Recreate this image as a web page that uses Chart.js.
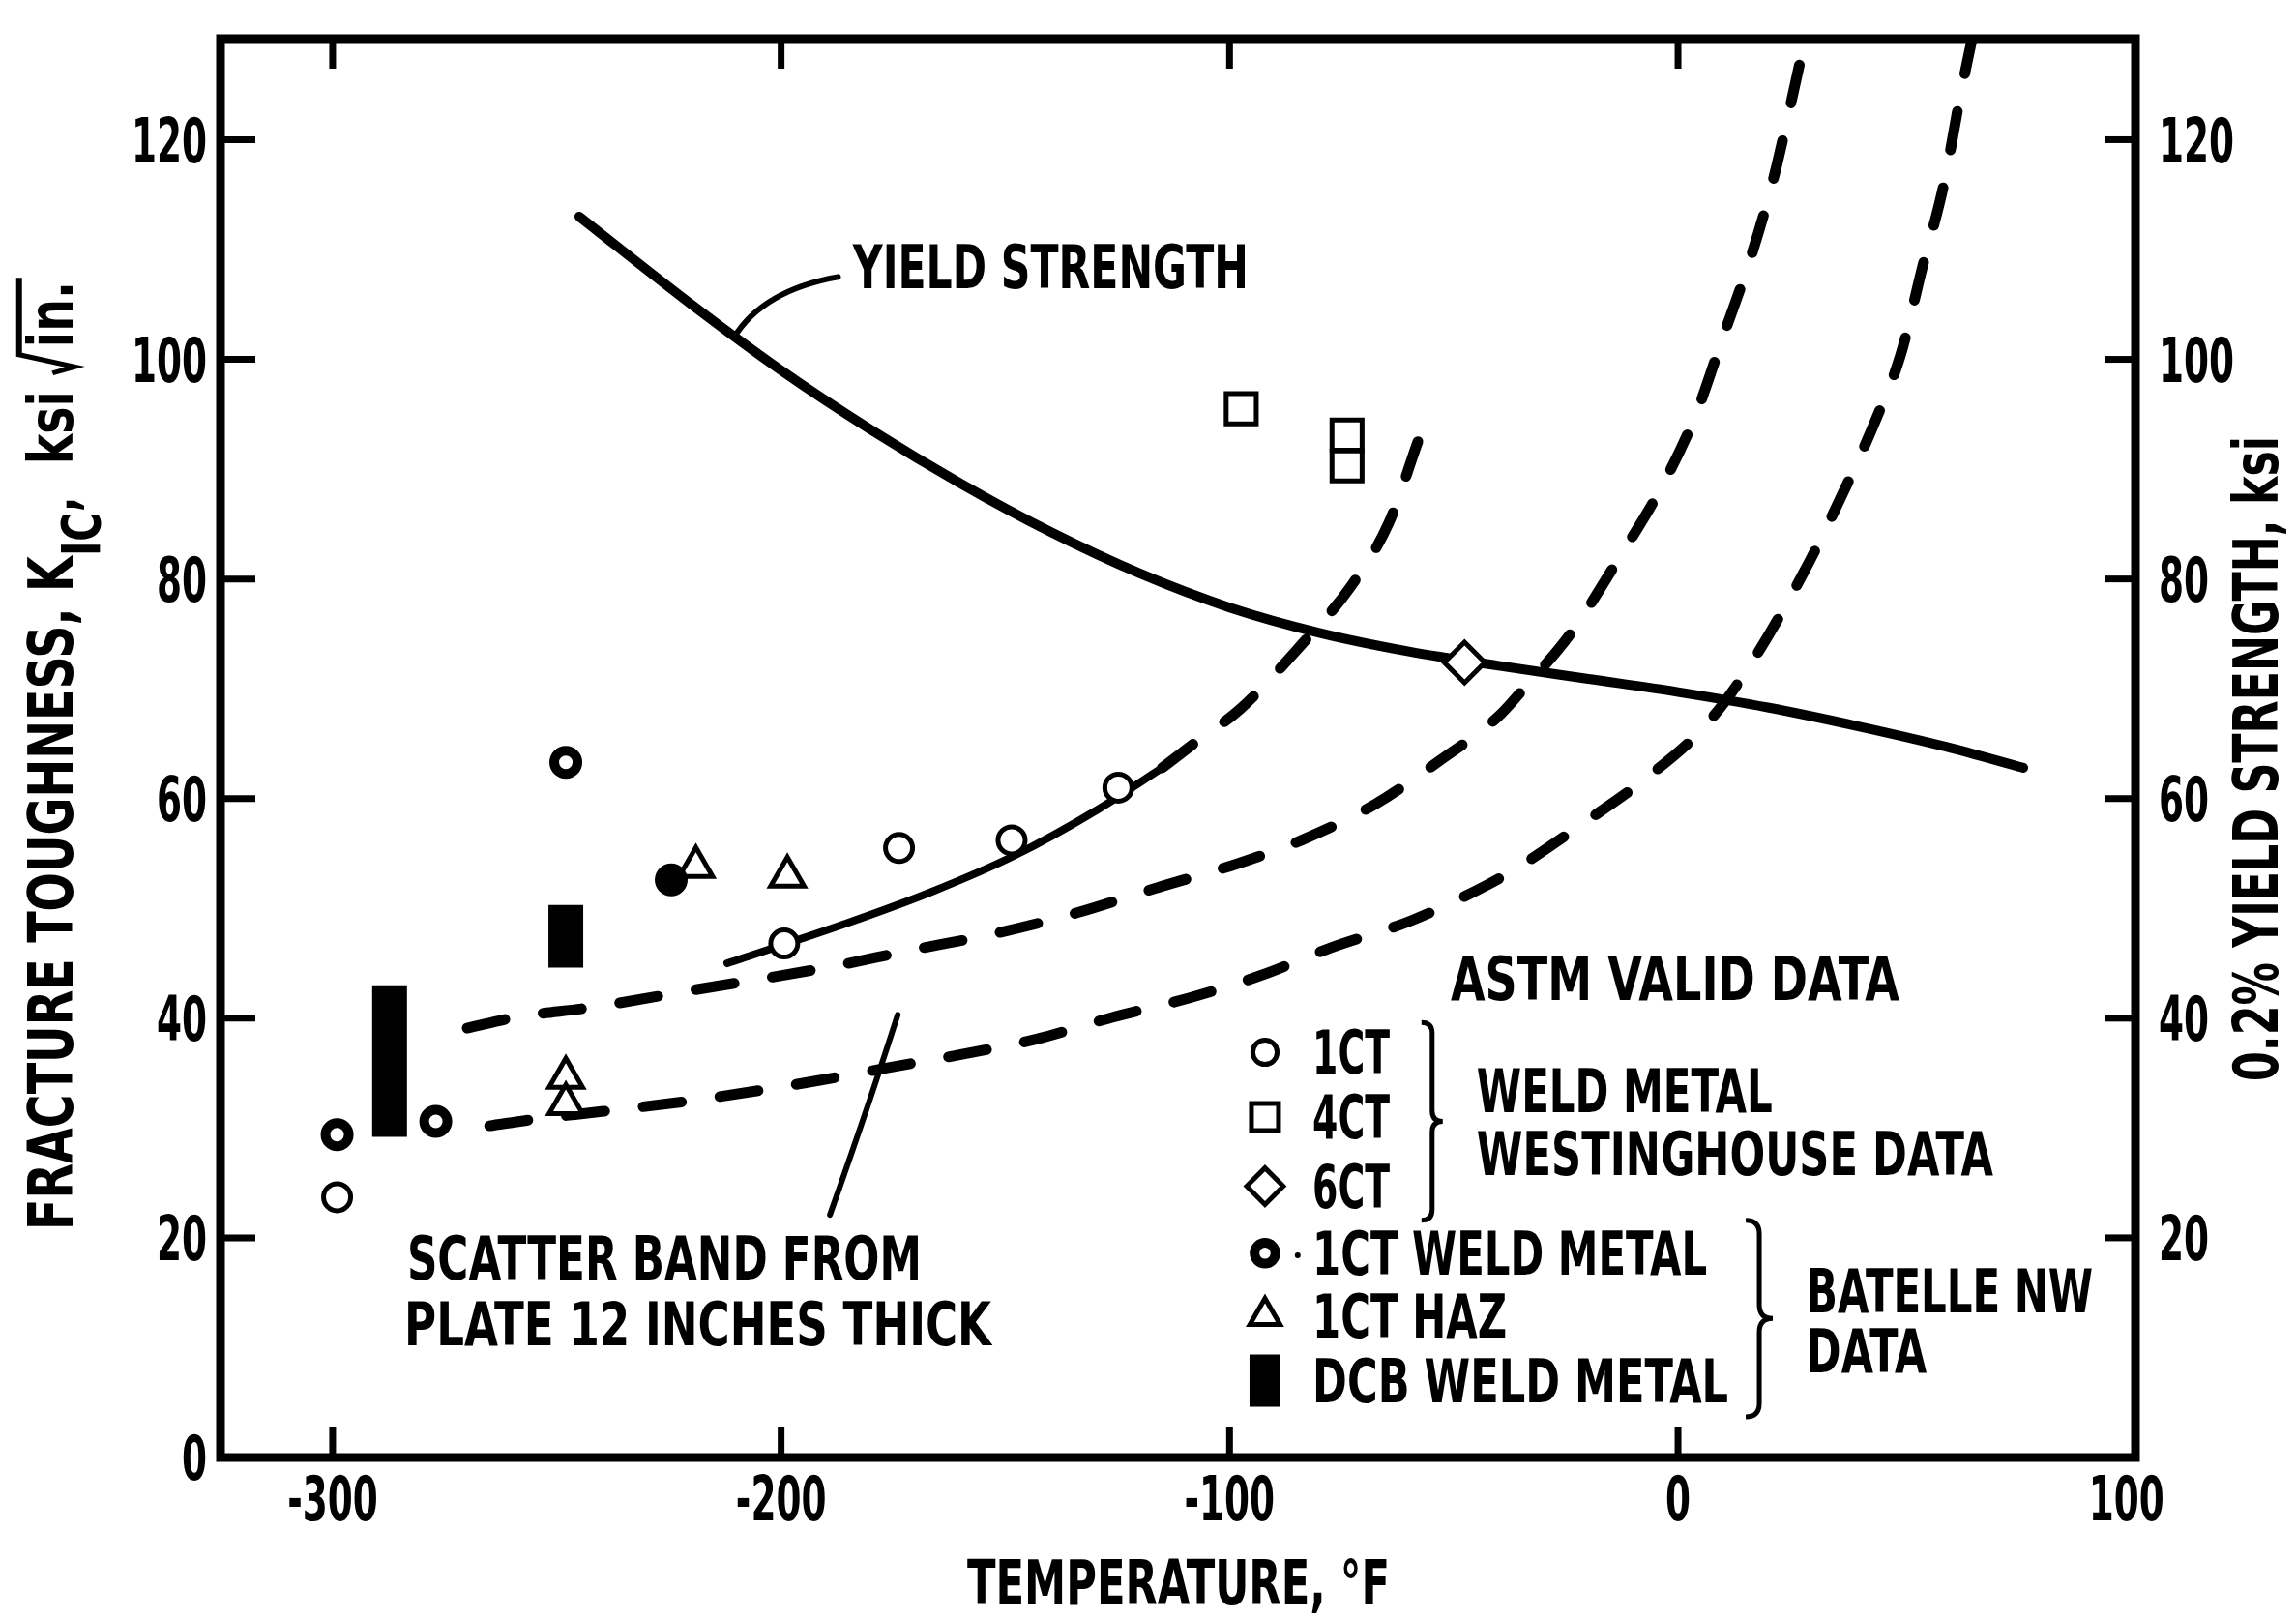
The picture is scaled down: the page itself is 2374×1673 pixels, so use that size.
<!DOCTYPE html>
<html>
<head>
    <title>Fracture Toughness vs Temperature</title>
    <style>
        body { margin: 0; background: #fff; }
        #wrap { width: 2374px; height: 1673px; }
    </style>
    <script src="https://cdn.jsdelivr.net/npm/chart.js"></script>
</head>
<body>
    <div id="wrap"><canvas id="kicChart" width="2374" height="1673"></canvas></div>

    <script>
        const FONT = "'Liberation Sans Narrow', 'DejaVu Sans Condensed', 'Liberation Sans', sans-serif";

        // axis ticks
        const xTicks = [-300, -200, -100, 0, 100];
        const yTicks = [0, 20, 40, 60, 80, 100, 120];
        const yieldTicks = [20, 40, 60, 80, 100, 120];

        // 0.2% yield strength curve (ksi, right axis)
        const yieldT = [-245, -220, -200, -180, -160, -140, -120, -100, -80, -60, -40, -20, 0, 20, 40, 60, 77];
        const yieldKsi = [113, 105, 99, 93.6, 88.7, 84.3, 80.5, 77.4, 75.1, 73.4, 72.1, 70.9, 69.7, 68.3, 66.6, 64.7, 62.8];

        // solid fit through 1CT weld metal points, then dashed continuation
        const fitT = [-212, -185, -166.5, -148, -129, -115];
        const fitK = [45, 48.7, 51.5, 54.8, 59.1, 62.8];
        const fitDashT = [-115, -108, -97.5, -84, -73, -64.5, -58];
        const fitDashK = [62.8, 65, 68.2, 74, 79.3, 85.1, 92.5];

        // scatter band from 12 inch plate (upper and lower bounds)
        const bandHiT = [-270, -259, -242, -219, -190, -171, -153.5, -134, -116, -98, -84, -67.5, -53, -40, -34, -24, -13, -3.5, 4, 10, 16, 21, 25, 29.3];
        const bandHiK = [39.1, 40.1, 41, 42.6, 44.6, 46.2, 47.6, 49.6, 51.9, 54.1, 56.2, 59.5, 63.5, 67.5, 70.2, 75, 82, 88.5, 95, 102, 109, 116, 123, 131];
        const bandLoT = [-265, -255, -240, -218, -192, -176, -158.5, -143, -126, -108.5, -93, -77.5, -59.4, -43.2, -35.8, -20.6, -7.3, 6, 15.5, 27.9, 36.4, 44, 49.7, 54.5, 59.2, 63, 66.5];
        const bandLoK = [30.2, 30.8, 31.5, 32.6, 34.3, 35.5, 36.8, 38.1, 40.1, 41.9, 43.9, 46.4, 48.9, 52, 53.7, 57.9, 61.8, 66.6, 71.8, 80.5, 87.5, 94.4, 100.5, 108.4, 115.8, 124.1, 131];

        // Westinghouse weld metal data
        const ct1T = [-299, -199.3, -173.7, -148.6, -124.8];
        const ct1K = [23.7, 46.8, 55.5, 56.2, 61];
        const ct4T = [-97.4, -73.8, -73.8];
        const ct4K = [95.5, 93.1, 90.3];
        const ct6T = [-47.6];
        const ct6K = [72.4];

        // Batelle NW data
        const weldT = [-299, -277, -248, -224.5];
        const weldK = [29.4, 30.6, 63.3, 52.6];
        const hazT = [-248, -248, -219, -198.6];
        const hazK = [34.6, 32.2, 53.8, 52.9];
        const dcbT = [-287.3, -248];
        const dcbLo = [29.2, 44.6];
        const dcbHi = [43, 50.3];

        const pts = (xs, ys) => xs.map((x, i) => ({ x: x, y: ys[i] }));

        const marks = {
            ct1: { pointStyle: 'circle', radius: 14, borderWidth: 5 },
            ct4: { pointStyle: 'rect', radius: 22, borderWidth: 5 },
            ct6: { pointStyle: 'rectRot', radius: 21, borderWidth: 5 },
            weld: { pointStyle: 'circle', radius: 12, borderWidth: 10 },
            haz: { pointStyle: 'triangle', radius: 20, borderWidth: 5 }
        };

        function markerSet(label, data, m, fill) {
            return {
                type: 'scatter', label: label, data: data,
                pointStyle: m.pointStyle, pointRadius: m.radius, pointBorderWidth: m.borderWidth,
                pointBorderColor: '#000', pointBackgroundColor: fill || '#fff', showLine: false
            };
        }

        function curve(label, data, width, dash, axis) {
            return {
                type: 'line', label: label, data: data, yAxisID: axis || 'y',
                borderColor: '#000', borderWidth: width, borderDash: dash || [],
                borderCapStyle: 'round', pointRadius: 0, cubicInterpolationMode: 'monotone',
                fill: false, clip: 0
            };
        }

        const datasets = [
            markerSet('1CT', pts(ct1T, ct1K), marks.ct1),
            markerSet('4CT', pts(ct4T, ct4K), marks.ct4),
            markerSet('6CT', pts(ct6T, ct6K), marks.ct6),
            markerSet('1CT WELD METAL', pts(weldT, weldK), marks.weld, ['#fff', '#fff', '#fff', '#000']),
            markerSet('1CT HAZ', pts(hazT, hazK), marks.haz)
        ];
        dcbT.forEach((t, i) => {
            datasets.push({
                type: 'line', label: 'DCB WELD METAL',
                data: [{ x: t, y: dcbLo[i] }, { x: t, y: dcbHi[i] }],
                borderColor: '#000', borderWidth: 36, borderCapStyle: 'butt',
                pointRadius: 0, tension: 0, fill: false
            });
        });
        datasets.push(
            curve('Yield strength', pts(yieldT, yieldKsi), 10, null, 'y2'),
            curve('1CT fit', pts(fitT, fitK), 8),
            curve('1CT fit (extrapolated)', pts(fitDashT, fitDashK), 11, [40, 40]),
            curve('Scatter band upper', pts(bandHiT, bandHiK), 11, [40, 40]),
            curve('Scatter band lower', pts(bandLoT, bandLoK), 11, [40, 40])
        );

        function seg(c, x0, y0, x1, y1) {
            c.beginPath(); c.moveTo(x0, y0); c.lineTo(x1, y1); c.stroke();
        }

        // condensed lettering: text squeezed to a given width
        function text(c, str, x, y, w, size) {
            c.save();
            c.font = 'bold ' + size + 'px ' + FONT;
            c.textAlign = 'left';
            c.textBaseline = 'alphabetic';
            const k = w / c.measureText(str).width;
            c.translate(x, y + size * 0.36);
            c.scale(k, 1);
            c.fillText(str, 0, 0);
            c.restore();
        }

        function tickText(c, str, x, y, align) {
            c.save();
            c.font = 'bold 64px ' + FONT;
            const k = 26 / c.measureText('0').width;
            const w = c.measureText(str).width * k;
            const x0 = align === 'right' ? x - w : (align === 'center' ? x - w / 2 : x);
            c.translate(x0, y + 64 * 0.36);
            c.scale(k, 1);
            c.textAlign = 'left';
            c.textBaseline = 'alphabetic';
            c.fillText(str, 0, 0);
            c.restore();
        }

        function brace(c, x, y0, y1, w) {
            const m = (y0 + y1) / 2;
            c.beginPath();
            c.moveTo(x, y0);
            c.quadraticCurveTo(x + w, y0, x + w, y0 + w);
            c.lineTo(x + w, m - w);
            c.quadraticCurveTo(x + w, m, x + 2 * w, m);
            c.quadraticCurveTo(x + w, m, x + w, m + w);
            c.lineTo(x + w, y1 - w);
            c.quadraticCurveTo(x + w, y1, x, y1);
            c.stroke();
        }

        function leftTitle(c, cx, cy, len) {
            const S = 64, cap = S * 0.72, base = cap / 2;
            const parts = [
                { t: 'FRACTURE TOUGHNESS, K', f: S, dy: 0 },
                { t: 'IC', f: 56, dy: 28 },
                { t: ',', f: 56, dy: 4 },
                { t: '  ksi ', f: S, dy: 0 }
            ];
            c.save();
            c.translate(cx, cy);
            c.rotate(-Math.PI / 2);
            const widths = parts.map(p => { c.font = 'bold ' + p.f + 'px ' + FONT; return c.measureText(p.t).width; });
            c.font = 'bold ' + S + 'px ' + FONT;
            const inW = c.measureText('in.').width;
            const radW = cap * 0.75;
            const total = widths.reduce((s, v) => s + v, 0) + radW + inW;
            c.scale(len / total, 1);
            c.textBaseline = 'alphabetic';
            let pos = -total / 2;
            parts.forEach((p, i) => {
                c.font = 'bold ' + p.f + 'px ' + FONT;
                c.fillText(p.t, pos, base + p.dy);
                pos += widths[i];
            });
            c.lineWidth = 6;
            c.beginPath();
            c.moveTo(pos + 0.05 * cap, base - 0.45 * cap);
            c.lineTo(pos + 0.22 * cap, base + 0.05 * cap);
            c.lineTo(pos + 0.55 * cap, base - 1.2 * cap);
            c.lineTo(pos + radW + inW + 0.1 * cap, base - 1.2 * cap);
            c.stroke();
            c.font = 'bold ' + S + 'px ' + FONT;
            c.fillText('in.', pos + radW, base);
            c.restore();
        }

        function vText(c, str, cx, cy, len, size) {
            c.save();
            c.translate(cx, cy);
            c.rotate(-Math.PI / 2);
            c.font = 'bold ' + size + 'px ' + FONT;
            c.scale(len / c.measureText(str).width, 1);
            c.textAlign = 'center';
            c.textBaseline = 'alphabetic';
            c.fillText(str, 0, size * 0.36);
            c.restore();
        }

        const tickName = t => (t.label !== undefined && t.label !== '' ? String(t.label) : String(t.value));

        const annotate = {
            id: 'annotate',
            afterDatasetsDraw(chart) {
                const c = chart.ctx, a = chart.chartArea;
                const xs = chart.scales.x, ys = chart.scales.y, y2 = chart.scales.y2;
                const X = v => xs.getPixelForValue(v), Y = v => ys.getPixelForValue(v);
                c.save();
                c.strokeStyle = '#000';
                c.fillStyle = '#000';

                // frame and inward tick marks
                c.lineWidth = 9;
                c.strokeRect(a.left, a.top, a.right - a.left, a.bottom - a.top);
                c.lineWidth = 7;
                xs.ticks.forEach(t => {
                    const p = X(t.value);
                    tickText(c, tickName(t), p, a.bottom + 42, 'center');
                    if (t.value <= xs.min || t.value >= xs.max - 5) return;
                    seg(c, p, a.bottom, p, a.bottom - 31);
                    seg(c, p, a.top, p, a.top + 31);
                });
                ys.ticks.forEach(t => {
                    const p = Y(t.value);
                    tickText(c, tickName(t), a.left - 14, p, 'right');
                    if (t.value <= 0) return;
                    seg(c, a.left, p, a.left + 36, p);
                });
                y2.ticks.forEach(t => {
                    const p = y2.getPixelForValue(t.value);
                    tickText(c, tickName(t), a.right + 24, p, 'left');
                    seg(c, a.right, p, a.right - 31, p);
                });

                // leader lines
                c.lineWidth = 6;
                c.lineCap = 'round';
                c.beginPath();
                c.moveTo(X(-210.5), Y(102));
                c.quadraticCurveTo(X(-204), Y(106.3), X(-187.3), Y(107.5));
                c.stroke();
                c.beginPath();
                c.moveTo(X(-189.1), Y(22.1));
                c.quadraticCurveTo(X(-180.5), Y(32), X(-174), Y(40.3));
                c.stroke();

                // notes
                const notes = [
                    ['YIELD STRENGTH', -184, 108.4, 409],
                    ['SCATTER BAND FROM', -283.4, 18.2, 532],
                    ['PLATE 12 INCHES THICK', -284, 12.2, 607],
                    ['ASTM VALID DATA', -50.7, 43.6, 464],
                    ['WELD METAL', -44.9, 33.4, 306],
                    ['WESTINGHOUSE DATA', -44.9, 27.7, 534],
                    ['BATELLE NW', 28.7, 15.2, 296],
                    ['DATA', 28.7, 9.7, 124]
                ];
                notes.forEach(n => text(c, n[0], X(n[1]), Y(n[2]), n[3], 62));

                // key
                const rows = [
                    ['1CT', marks.ct1, '#fff', 80, 36.9],
                    ['4CT', marks.ct4, '#fff', 80, 31.0],
                    ['6CT', marks.ct6, '#fff', 80, 24.7],
                    ['1CT WELD METAL', marks.weld, '#fff', 408, 18.6],
                    ['1CT HAZ', marks.haz, '#fff', 201, 12.9],
                    ['DCB WELD METAL', null, '#000', 430, 7.0]
                ];
                const mx = X(-92.1), tx = X(-81.5);
                rows.forEach(r => {
                    const py = Y(r[4]);
                    if (r[1]) {
                        c.fillStyle = r[2];
                        c.lineWidth = r[1].borderWidth;
                        Chart.helpers.drawPoint(c, { pointStyle: r[1].pointStyle, radius: r[1].radius * 0.9, borderWidth: r[1].borderWidth, rotation: 0 }, mx, py);
                    } else {
                        c.fillStyle = '#000';
                        c.fillRect(mx - 16, py - 27, 32, 54);
                    }
                    c.fillStyle = '#000';
                    text(c, r[0], tx, py, r[3], 62);
                });
                c.beginPath();
                c.arc(X(-84.8), Y(18.4), 3, 0, Math.PI * 2);
                c.fill();

                c.lineWidth = 5;
                c.lineCap = 'butt';
                brace(c, X(-57.2), Y(39.6), Y(21.6), 11);
                brace(c, X(15.1), Y(21.6), Y(3.7), 14);

                // axis titles
                leftTitle(c, a.left - 176, (a.top + a.bottom) / 2 + 8, 981);
                vText(c, '0.2% YIELD STRENGTH, ksi', a.right + 124, (a.top + a.bottom) / 2 + 11, 667, 64);
                text(c, 'TEMPERATURE, \u00B0F', (a.left + a.right) / 2 - 218, a.bottom + 129, 437, 64);

                c.restore();
            }
        };

        const hidden = { display: false };

        new Chart(document.getElementById('kicChart').getContext('2d'), {
            type: 'scatter',
            data: { datasets: datasets },
            options: {
                responsive: false,
                devicePixelRatio: 1,
                animation: false,
                events: [],
                layout: { padding: { top: 40, left: 0, right: 0, bottom: 0 } },
                plugins: { legend: { display: false }, tooltip: { enabled: false } },
                scales: {
                    x: {
                        type: 'linear', position: 'bottom', min: -325, max: 102,
                        afterBuildTicks: s => { s.ticks = xTicks.map(v => ({ value: v })); },
                        afterFit: s => { s.height = 166; },
                        grid: hidden, border: hidden, ticks: { display: false }
                    },
                    y: {
                        type: 'linear', position: 'left', min: 0, max: 129.2,
                        afterBuildTicks: s => { s.ticks = yTicks.map(v => ({ value: v })); },
                        afterFit: s => { s.width = 228; },
                        grid: hidden, border: hidden, ticks: { display: false }
                    },
                    y2: {
                        type: 'linear', position: 'right', min: 0, max: 129.2,
                        afterBuildTicks: s => { s.ticks = yieldTicks.map(v => ({ value: v })); },
                        afterFit: s => { s.width = 166; },
                        grid: hidden, border: hidden, ticks: { display: false }
                    }
                }
            },
            plugins: [annotate]
        });
    </script>
</body>
</html>
